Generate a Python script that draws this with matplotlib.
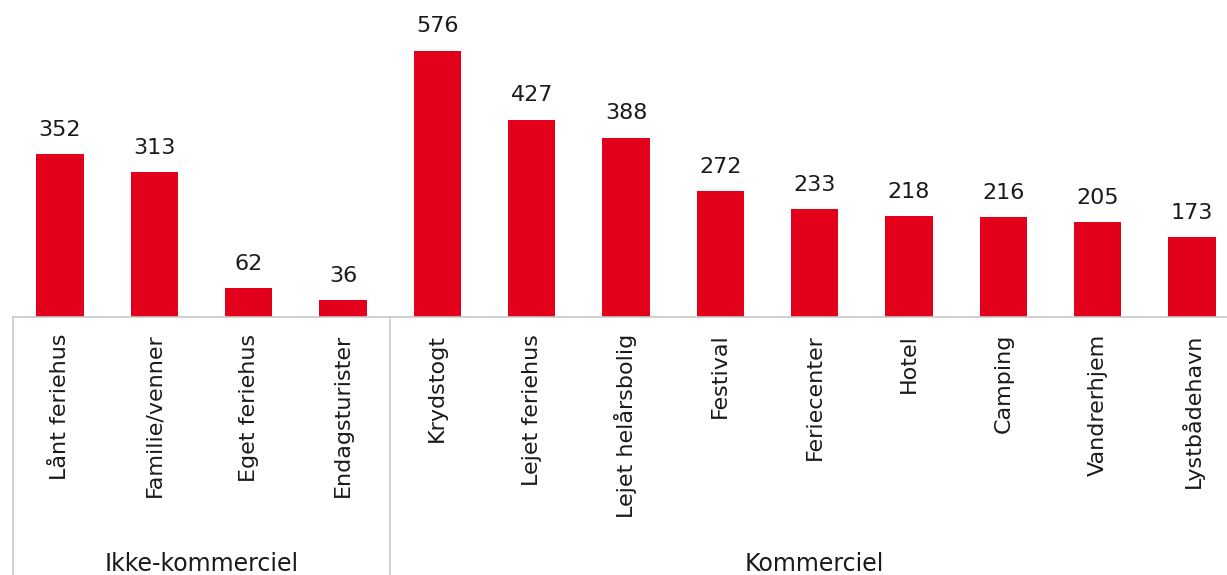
import matplotlib
matplotlib.use("Agg")
import matplotlib.pyplot as plt
from matplotlib.lines import Line2D

categories = ["Lånt feriehus", "Familie/venner", "Eget feriehus", "Endagsturister",
              "Krydstogt", "Lejet feriehus", "Lejet helårsbolig", "Festival",
              "Feriecenter", "Hotel", "Camping", "Vandrerhjem", "Lystbådehavn"]
values = [352, 313, 62, 36, 576, 427, 388, 272, 233, 218, 216, 205, 173]
groups = ["Ikke-kommerciel", "Kommerciel"]
group_sizes = [4, 9]

plt.rcParams['font.family'] = ['DejaVu Sans']

W, H = 1227, 575
fig = plt.figure(figsize=(W/100, H/100), dpi=100)
slot = 94.33
x0 = 60.0
left_px = x0 - 0.5*slot
xr = (W - x0)/slot
base_px = 317
ax = fig.add_axes([left_px/W, (H-base_px)/H, (W-left_px)/W, base_px/H])
red = "#E3001B"
xs = list(range(len(values)))
bars = ax.bar(xs, values, width=0.5, color=red)
ax.set_xlim(-0.5, xr)
ax.set_ylim(0, base_px/ (266/576))
txt = "#1a1a1a"
fs = 16
for x, v in zip(xs, values):
    ax.annotate(str(v), (x, v), xytext=(0, 10.5), textcoords="offset points",
                ha="center", va="bottom", fontsize=fs, color=txt)
ax.set_xticks(xs)
ax.set_xticklabels(categories, rotation=90, fontsize=fs, color=txt)
ax.tick_params(axis="x", length=0, pad=12)
ax.set_yticks([])
for s in ["top", "right", "left"]:
    ax.spines[s].set_visible(False)
ax.spines["bottom"].set_color("#c8c8c8")
ax.spines["bottom"].set_linewidth(1.2)

gray = "#c8c8c8"
ybot = -(H - base_px)/base_px
start = 0
boundaries = [-0.5]
for n in group_sizes:
    boundaries.append(start + n - 0.5)
    start += n
trans = ax.get_xaxis_transform()
for b in boundaries:
    if b < xr:
        ax.add_line(Line2D([b, b], [0, ybot], transform=trans, color=gray, lw=1.2, clip_on=False))
start = 0
for g, n in zip(groups, group_sizes):
    c = start + (n - 1)/2
    ax.text(c, -(571 - base_px)/base_px, g, transform=trans, ha="center", va="baseline",
            fontsize=fs + 1, color=txt)
    start += n

fig.savefig("out.png", dpi=100)
